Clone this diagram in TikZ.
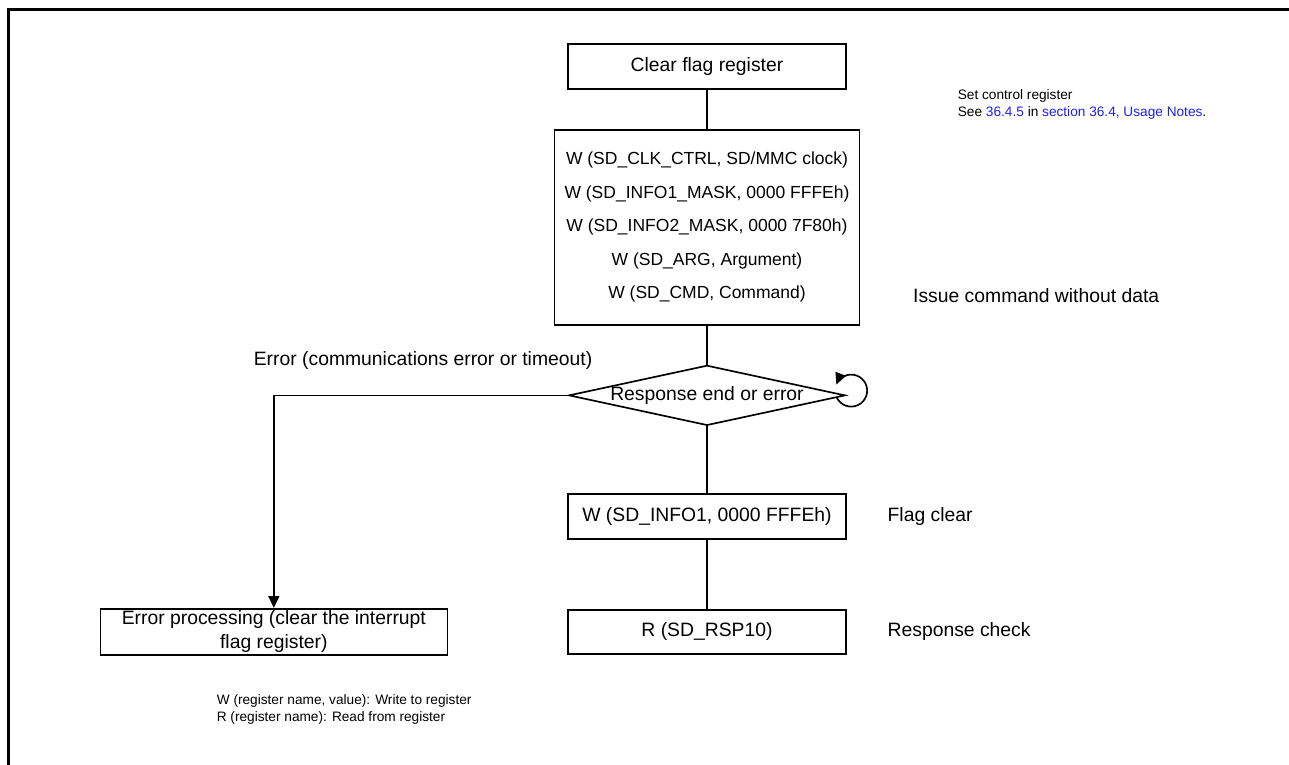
\documentclass[tikz,border=0pt]{standalone}
\usepackage{fontspec}
\setmainfont{Liberation Sans}
\usetikzlibrary{arrows.meta,positioning,shapes.geometric}
\definecolor{linkblue}{RGB}{30,30,235}
\newcommand{\mainsz}{\fontsize{11.6}{13.9}\selectfont}
\newcommand{\notesz}{\fontsize{8.2}{9.8}\selectfont}

\begin{document}
\begin{tikzpicture}[
  x=0.6pt, y=-0.6pt, line width=1pt, >={Triangle[length=7pt,width=6.5pt]}, node distance=23.4pt,
  box/.style={draw, align=center, inner sep=2pt, font=\mainsz},
  dec/.style={draw, diamond, aspect=4.6, inner sep=0pt, font=\mainsz},
  lbl/.style={inner sep=0pt, align=left, font=\mainsz},
  note/.style={inner sep=0pt, align=left, font=\notesz}]
\useasboundingbox (0,0) rectangle (1289,765);
\draw[line width=1.8pt] (8.5,765) |- (1289,9.5);
\node[box, minimum width=166.8pt, minimum height=27pt] (clr) at (707,66.5) {Clear flag register};
\node[box, below=of clr, minimum width=183pt, minimum height=117pt,
      font=\fontsize{10.5}{20.1}\selectfont] (set)
  {W (SD\_CLK\_CTRL, SD/MMC clock)\\W (SD\_INFO1\_MASK, 0000 FFFEh)\\
   W (SD\_INFO2\_MASK, 0000 7F80h)\\W (SD\_ARG, Argument)\\W (SD\_CMD, Command)};
\node[dec, below=of set, minimum width=164.4pt, minimum height=35.4pt] (resp) {Response end or error};
\node[box, below=40.2pt of resp, minimum width=166.8pt, minimum height=27pt] (flag) {W (SD\_INFO1, 0000 FFFEh)};
\node[box, below=41.4pt of flag, minimum width=166.8pt, minimum height=26.4pt] (rsp) {R (SD\_RSP10)};
\node[box, left=71.4pt of rsp, minimum width=208.2pt, minimum height=27.6pt, inner sep=0.5pt,
      font=\fontsize{11.6}{14.5}\selectfont] (err) {Error processing (clear the interrupt\\flag register)};
% side labels
\node[lbl, anchor=west] (issue) at ([xshift=31.2pt,yshift=-41.1pt]set.east) {Issue command without data};
\node[lbl, right=24pt of flag] (flaglbl) {Flag clear};
\node[lbl, right=24pt of rsp] (rsplbl) {Response check};
\node[lbl, anchor=west] (errlbl) at (253,360) {Error (communications error or timeout)};
\node[note, anchor=north west] (setnote) at (957,89)
  {Set control register\\See \textcolor{linkblue}{36.4.5} in \textcolor{linkblue}{section 36.4, Usage Notes}.};
\node[note, anchor=north west] (legend) at (216,694)
  {W (register name, value): Write to register\\R (register name): Read from register};
% connectors
\draw (clr) -- (set); \draw (set) -- (resp);
\draw (resp) -- (flag); \draw (flag) -- (rsp);
\draw[->] (resp.west) -| (err.north);
\draw[->] ([xshift=-5.6pt,yshift=-1.2pt]resp.east) arc[start angle=205, end angle=518, radius=9.6pt];
\end{tikzpicture}
\end{document}
